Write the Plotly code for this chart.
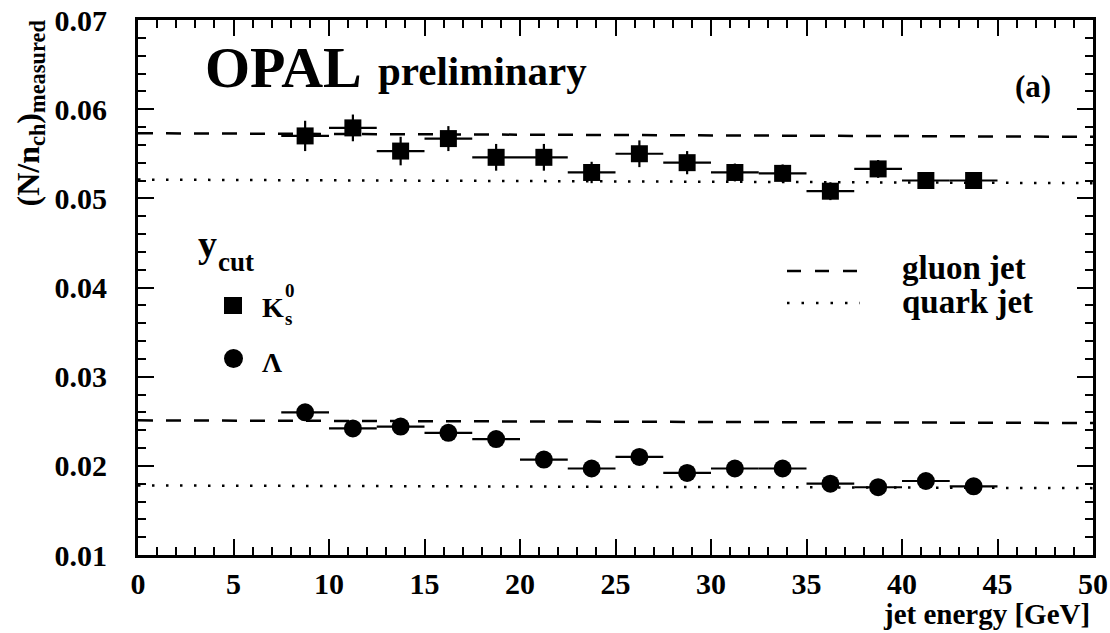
import plotly.graph_objects as go

# ---------------- data ----------------
jet_energy = [8.75, 11.25, 13.75, 16.25, 18.75, 21.25, 23.75, 26.25, 28.75,
              31.25, 33.75, 36.25, 38.75, 41.25, 43.75]
bin_halfwidth = [1.25] * 15

k0s_value = [0.0570, 0.0579, 0.0553, 0.0567, 0.0546, 0.0546, 0.0529, 0.0550,
             0.0540, 0.0529, 0.0528, 0.0508, 0.0533, 0.0520, 0.0520]
k0s_error = [0.0017, 0.0015, 0.0016, 0.0014, 0.0015, 0.0015, 0.0012, 0.0015,
             0.0013, 0.0010, 0.0010, 0.0010, 0.0010, 0.0008, 0.0008]

lambda_value = [0.0260, 0.0242, 0.0244, 0.0237, 0.0230, 0.0207, 0.0197, 0.0210,
                0.0192, 0.0197, 0.0197, 0.0180, 0.0176, 0.0183, 0.0177]
lambda_error = [0.0004, 0.0004, 0.0004, 0.0004, 0.0004, 0.0004, 0.0004, 0.0004,
                0.0004, 0.0004, 0.0004, 0.0004, 0.0004, 0.0004, 0.0004]

line_x = [0, 50]
k0s_gluon = [0.0573, 0.0569]
k0s_quark = [0.0521, 0.0517]
lambda_gluon = [0.0251, 0.0248]
lambda_quark = [0.0178, 0.0175]

x_ticks = [0, 5, 10, 15, 20, 25, 30, 35, 40, 45, 50]
y_ticks = [0.01, 0.02, 0.03, 0.04, 0.05, 0.06, 0.07]

# ---------------- layout geometry ----------------
W, H = 1110, 633
L, R, T, B = 138, 17, 20, 78
PW, PH = W - L - R, H - T - B
FONT = "Liberation Serif"


def px(xp):
    return (xp - L) / PW


def py(yp):
    return (H - B - yp) / PH


fig = go.Figure()

for yv in (k0s_gluon, lambda_gluon):
    fig.add_trace(go.Scatter(x=line_x, y=yv, mode="lines",
                             line=dict(color="black", width=2.5, dash="15px,13px"),
                             showlegend=False, hoverinfo="skip"))
for yv in (k0s_quark, lambda_quark):
    fig.add_trace(go.Scatter(x=line_x, y=yv, mode="lines",
                             line=dict(color="black", width=2.5, dash="2.5px,11.5px"),
                             showlegend=False, hoverinfo="skip"))

fig.add_trace(go.Scatter(
    x=jet_energy, y=k0s_value, mode="markers",
    marker=dict(symbol="square", size=17, color="black"),
    error_x=dict(type="data", array=bin_halfwidth, color="black", thickness=2.2, width=0),
    error_y=dict(type="data", array=k0s_error, color="black", thickness=2.2, width=0),
    showlegend=False))

fig.add_trace(go.Scatter(
    x=jet_energy, y=lambda_value, mode="markers",
    marker=dict(symbol="circle", size=18, color="black"),
    error_x=dict(type="data", array=bin_halfwidth, color="black", thickness=2.2, width=0),
    error_y=dict(type="data", array=lambda_error, color="black", thickness=2.2, width=0),
    showlegend=False))

axis_common = dict(
    showline=True, linecolor="black", linewidth=3, mirror="ticks",
    ticks="inside", ticklen=16, tickwidth=2, tickcolor="black",
    showgrid=False, zeroline=False,
    tickfont=dict(family=FONT, size=30, color="black", weight="bold"),
)

fig.update_xaxes(range=[0, 50], tickvals=x_ticks, ticktext=[str(v) for v in x_ticks],
                 minor=dict(dtick=1, ticks="inside", ticklen=8, tickwidth=2, tickcolor="black"),
                 ticklabelstandoff=0, **axis_common)
fig.update_yaxes(range=[0.01, 0.07], tickvals=y_ticks, ticktext=[f"{v:.2f}" for v in y_ticks],
                 minor=dict(dtick=0.002, ticks="inside", ticklen=8, tickwidth=2, tickcolor="black"),
                 ticklabelstandoff=22, **axis_common)

ann = []


def text(t, xp, yp, size, xanchor="left", yanchor="middle", angle=0):
    ann.append(dict(text=t, x=px(xp), y=py(yp), xref="paper", yref="paper",
                    xanchor=xanchor, yanchor=yanchor, showarrow=False, textangle=angle,
                    font=dict(family=FONT, size=size, color="black", weight="bold")))


text("OPAL", 203, 68, 58)
text("preliminary", 376, 71, 41)
text("(a)", 1013, 86, 31)
text("y", 196, 244, 38)
text("cut", 216, 262, 27)
text("K", 260, 307, 28)
text("0", 283, 290, 19)
text("s", 283, 318, 19)
text("Λ", 260, 362, 28)
text("gluon jet", 900, 268, 33)
text("quark jet", 900, 302, 33)
text("jet energy [GeV]", 1092, 614, 29, xanchor="right")
text("(N/n<sub>ch</sub>)<sub>measured</sub>", 30, 18, 32, xanchor="center", yanchor="top", angle=-90)

shapes = [
    dict(type="rect", xref="paper", yref="paper", x0=px(224), x1=px(242), y0=py(314), y1=py(297),
         fillcolor="black", line=dict(width=0)),
    dict(type="circle", xref="paper", yref="paper", x0=px(224), x1=px(243), y0=py(368), y1=py(349),
         fillcolor="black", line=dict(width=0)),
    dict(type="line", xref="paper", yref="paper", x0=px(787), x1=px(860), y0=py(271), y1=py(271),
         line=dict(color="black", width=2.5, dash="14px,14px")),
    dict(type="line", xref="paper", yref="paper", x0=px(787), x1=px(860), y0=py(303), y1=py(303),
         line=dict(color="black", width=2.5, dash="2.5px,12px")),
]

fig.update_layout(
    width=W, height=H, margin=dict(l=L, r=R, t=T, b=B, autoexpand=False),
    paper_bgcolor="white", plot_bgcolor="white",
    annotations=ann, shapes=shapes, showlegend=False,
)

fig.write_html("out.html")
